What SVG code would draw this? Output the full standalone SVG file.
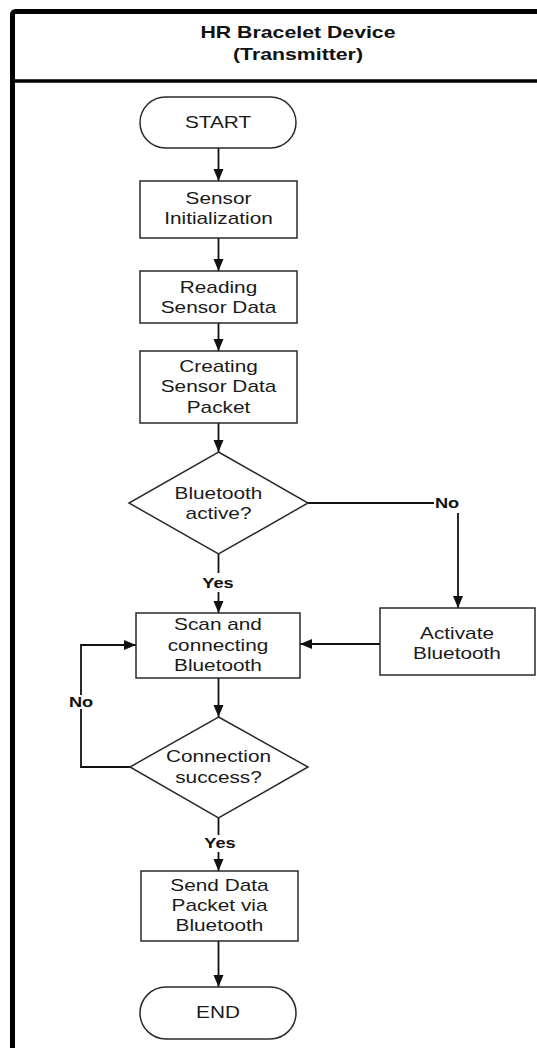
<svg xmlns="http://www.w3.org/2000/svg" width="537" height="1048" viewBox="0 0 537 1048">
<style>
.shape{fill:#fff;stroke:#2a2a2a;stroke-width:1.5}
.conn{fill:none;stroke:#111;stroke-width:1.8}
.t{font-family:"Liberation Sans",Arial,sans-serif;font-size:16px;fill:#1a1a1a;text-anchor:middle}
.h{font-family:"Liberation Sans",Arial,sans-serif;font-size:16px;font-weight:bold;fill:#111;text-anchor:middle}
.lbl{font-family:"Liberation Sans",Arial,sans-serif;font-size:14px;font-weight:bold;fill:#111;text-anchor:middle}
</style>
<defs>
<marker id="arr" markerUnits="userSpaceOnUse" markerWidth="13" markerHeight="11" refX="12" refY="5" orient="auto">
<path d="M0,0 L12,5 L0,10 z" fill="#111"/>
</marker>
</defs>
<rect width="537" height="1048" fill="#fff"/>
<g id="frame">
<rect x="12.5" y="11.5" width="560" height="1060" rx="3" fill="none" stroke="#000" stroke-width="5"/>
<line x1="12" y1="81" x2="537" y2="81" stroke="#000" stroke-width="3.5"/>
<text class="h" transform="translate(298 0) scale(1.33 1)" x="0" y="38">HR Bracelet Device</text>
<text class="h" transform="translate(298 0) scale(1.33 1)" x="0" y="60">(Transmitter)</text>
</g>
<g id="connectors">
<path class="conn" d="M218.5,148 V181" marker-end="url(#arr)"/>
<path class="conn" d="M218.5,238 V271" marker-end="url(#arr)"/>
<path class="conn" d="M218.5,323 V351" marker-end="url(#arr)"/>
<path class="conn" d="M218.5,423 V452" marker-end="url(#arr)"/>
<path class="conn" d="M218.5,554 V573"/>
<path class="conn" d="M218.5,592 V613" marker-end="url(#arr)"/>
<path class="conn" d="M308,503 H434"/>
<path class="conn" d="M458,513 V608" marker-end="url(#arr)"/>
<path class="conn" d="M380,644 H300" marker-end="url(#arr)"/>
<path class="conn" d="M218.5,678 V717" marker-end="url(#arr)"/>
<path class="conn" d="M130,767 H81 V709"/>
<path class="conn" d="M81,695 V645 H136" marker-end="url(#arr)"/>
<path class="conn" d="M218.5,818 V835"/>
<path class="conn" d="M218.5,852 V871" marker-end="url(#arr)"/>
<path class="conn" d="M218.5,941 V987" marker-end="url(#arr)"/>
<text class="lbl" transform="translate(218 0) scale(1.3 1)" x="0" y="588">Yes</text>
<text class="lbl" transform="translate(447 0) scale(1.3 1)" x="0" y="508">No</text>
<text class="lbl" transform="translate(81 0) scale(1.3 1)" x="0" y="707">No</text>
<text class="lbl" transform="translate(220 0) scale(1.3 1)" x="0" y="848">Yes</text>
</g>
<g id="start">
<rect class="shape" x="140" y="97" width="156" height="51" rx="25.5"/>
<text class="t" transform="translate(218 0) scale(1.3 1)" x="0" y="128">START</text>
</g>
<g id="sensor-init">
<rect class="shape" x="140" y="181" width="157" height="57"/>
<text class="t" transform="translate(218.5 0) scale(1.3 1)" x="0" y="204">Sensor</text>
<text class="t" transform="translate(218.5 0) scale(1.3 1)" x="0" y="224">Initialization</text>
</g>
<g id="reading">
<rect class="shape" x="140" y="271" width="157" height="52"/>
<text class="t" transform="translate(218.5 0) scale(1.3 1)" x="0" y="293">Reading</text>
<text class="t" transform="translate(218.5 0) scale(1.3 1)" x="0" y="313">Sensor Data</text>
</g>
<g id="creating">
<rect class="shape" x="140" y="351" width="157" height="72"/>
<text class="t" transform="translate(218.5 0) scale(1.3 1)" x="0" y="372">Creating</text>
<text class="t" transform="translate(218.5 0) scale(1.3 1)" x="0" y="392.5">Sensor Data</text>
<text class="t" transform="translate(218.5 0) scale(1.3 1)" x="0" y="413">Packet</text>
</g>
<g id="bt-active">
<polygon class="shape" points="218.5,452 308,503 218.5,554 129,503"/>
<text class="t" transform="translate(218.5 0) scale(1.3 1)" x="0" y="499">Bluetooth</text>
<text class="t" transform="translate(218.5 0) scale(1.3 1)" x="0" y="519">active?</text>
</g>
<g id="activate">
<rect class="shape" x="380" y="608" width="155" height="67"/>
<text class="t" transform="translate(457 0) scale(1.3 1)" x="0" y="639">Activate</text>
<text class="t" transform="translate(457 0) scale(1.3 1)" x="0" y="659">Bluetooth</text>
</g>
<g id="scan">
<rect class="shape" x="136" y="613" width="164" height="65"/>
<text class="t" transform="translate(218 0) scale(1.3 1)" x="0" y="630">Scan and</text>
<text class="t" transform="translate(218 0) scale(1.3 1)" x="0" y="651">connecting</text>
<text class="t" transform="translate(218 0) scale(1.3 1)" x="0" y="671">Bluetooth</text>
</g>
<g id="conn-success">
<polygon class="shape" points="218.5,717 308,767 218.5,818 130,767"/>
<text class="t" transform="translate(218.5 0) scale(1.3 1)" x="0" y="762">Connection</text>
<text class="t" transform="translate(218.5 0) scale(1.3 1)" x="0" y="783">success?</text>
</g>
<g id="send">
<rect class="shape" x="141" y="871" width="157" height="70"/>
<text class="t" transform="translate(219.5 0) scale(1.3 1)" x="0" y="891">Send Data</text>
<text class="t" transform="translate(219.5 0) scale(1.3 1)" x="0" y="911">Packet via</text>
<text class="t" transform="translate(219.5 0) scale(1.3 1)" x="0" y="931">Bluetooth</text>
</g>
<g id="end">
<rect class="shape" x="140" y="987" width="156" height="52" rx="26"/>
<text class="t" transform="translate(218 0) scale(1.3 1)" x="0" y="1018">END</text>
</g>
</svg>
